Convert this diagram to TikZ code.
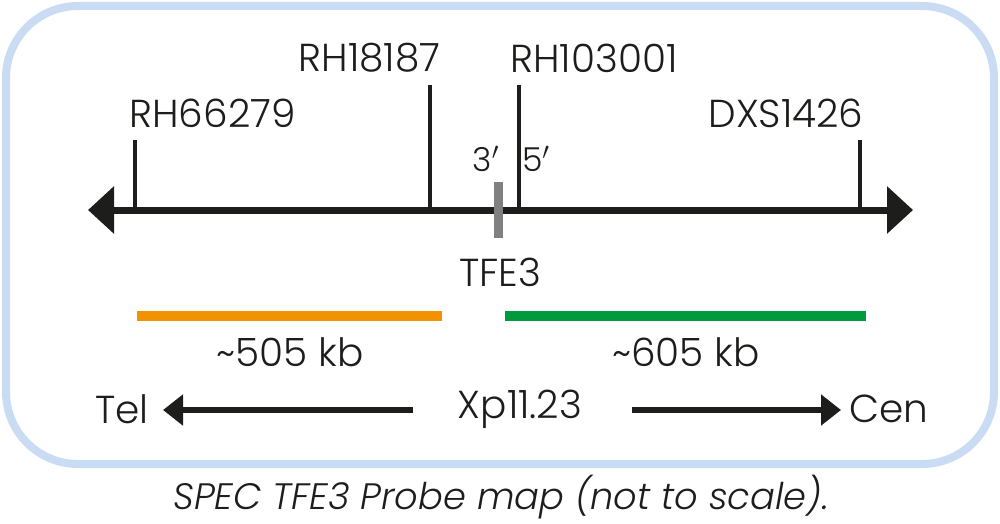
\documentclass[tikz,border=0pt]{standalone}
\usepackage{fontspec}
\setmainfont{Poppins}[UprightFont = * Light, ItalicFont = * Light Italic]
\usepackage{tikz}
\usetikzlibrary{positioning}
\usetikzlibrary{arrows.meta}
\definecolor{frameblue}{HTML}{C9DCF3}
\definecolor{probeorange}{HTML}{F39200}
\definecolor{probegreen}{HTML}{009A3E}
\definecolor{genegray}{HTML}{808080}
\definecolor{ink}{HTML}{1D1D1B}

\begin{document}
\begin{tikzpicture}[
            x = 0.5pt, y = -0.5pt, % one unit is one pixel
            >= {Triangle[length=13pt, width=23pt]}, % arrow head style
            every node/.style = {text = ink, inner sep = 0pt},
            semithick % line style
        ]

        \tikzstyle{marker}=[draw = ink, line width = 1.6pt]
        \tikzstyle{markerlabel}=[font = \fontsize{19.5}{23}\selectfont]
        \tikzstyle{endlabel}=[font = \fontsize{19.5}{23}\selectfont]
        \tikzstyle{probe}=[line width = 5pt]
        \tikzstyle{direction}=[draw = ink, line width = 3pt,
            -{Triangle[length=10pt, width=15pt]}]

        \useasboundingbox (0,0) rectangle (1000,524);

        % frame
        \draw[frameblue, line width = 4pt, rounded corners = 36pt]
            (6,6) rectangle (994,464);

        % chromosome axis
        \coordinate (L) at (88,210);
        \coordinate (R) at (913,210);
        \draw[ink, line width = 3.5pt, <->] (L) -- (R);

        % markers
        \coordinate (M1) at (135,210);
        \coordinate (M2) at (430,210);
        \coordinate (M3) at (519,210);
        \coordinate (M4) at (860,210);
        \coordinate (T1) at (135,140);
        \coordinate (T2) at (430,85);
        \coordinate (T3) at (519,85);
        \coordinate (T4) at (860,140);
        \node[markerlabel, anchor = south west] (RHa) at (129,128) {RH66279};
        \node[markerlabel, anchor = south east] (RHb) at (441,73) {RH18187};
        \node[markerlabel, anchor = south west] (RHc) at (510,73) {RH103001};
        \node[markerlabel, anchor = south east] (DXS) at (864,128) {DXS1426};
        \draw[marker] (M1) -- (T1);
        \draw[marker] (M2) -- (T2);
        \draw[marker] (M3) -- (T3);
        \draw[marker] (M4) -- (T4);

        % gene
        \node[fill = genegray, minimum width = 4.5pt, minimum height = 28pt] (G) at (498.5,210) {};
        \node[font = \fontsize{16.5}{19}\selectfont] (P3) at (486,159) {3$'$};
        \node[font = \fontsize{16.5}{19}\selectfont] (P5) at (536,159) {5$'$};
        \node[markerlabel] (TFE) at (500,272) {TFE3};

        % probes
        \coordinate (Oa) at (137,316);
        \coordinate (Ob) at (442,316);
        \coordinate (Ga) at (505,316);
        \coordinate (Gb) at (866,316);
        \draw[probe, probeorange] (Oa) -- (Ob);
        \draw[probe, probegreen] (Ga) -- (Gb);
        \node[markerlabel] (KBa) at (290,352) {\textasciitilde505 kb};
        \node[markerlabel] (KBb) at (686,352) {\textasciitilde605 kb};

        % orientation
        \node[endlabel] (Tel) at (122,409) {Tel};
        \node[endlabel] (Xp) at (520,409) {Xp11.23};
        \node[endlabel] (Cen) at (889,409) {Cen};
        \coordinate (TelTip) at (163,410);
        \coordinate (TelTail) at (413,410);
        \coordinate (CenTail) at (632,410);
        \coordinate (CenTip) at (841,410);
        \draw[direction] (TelTail) -- (TelTip);
        \draw[direction] (CenTail) -- (CenTip);

        % caption
        \node[font = \fontsize{18.4}{21}\selectfont\itshape] (CAP) at (501,497)
            {SPEC TFE3 Probe map (not to scale).};

\end{tikzpicture}
\end{document}
